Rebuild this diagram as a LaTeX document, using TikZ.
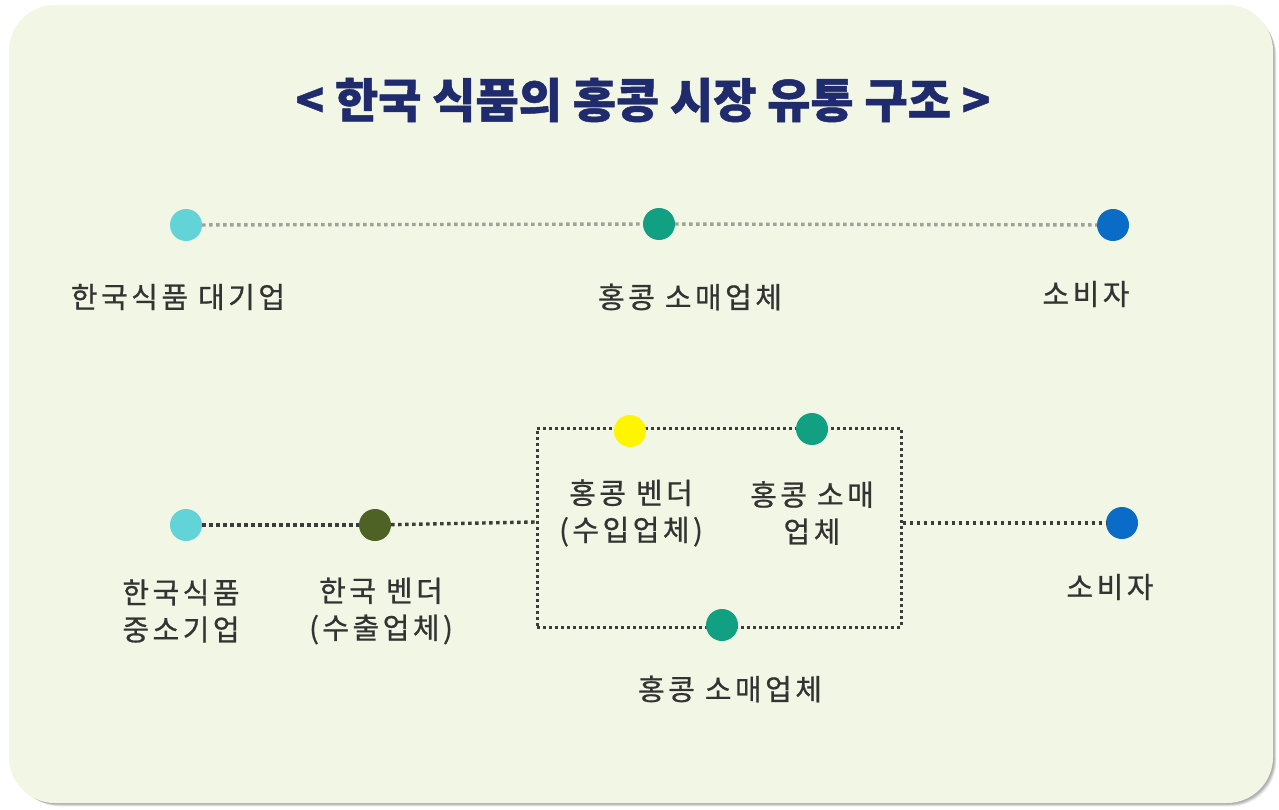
\documentclass[tikz,border=0pt]{standalone}
\usepackage{fontspec}
\newfontfamily\kr[LetterSpace=12,FakeBold=0.7]{Noto Sans CJK KR}
\newfontfamily\krtitle[FakeBold=1]{Noto Sans CJK KR}
\definecolor{bgc}{HTML}{F2F6E4}
\definecolor{txt}{HTML}{333333}
\definecolor{navy}{HTML}{1F2B6C}
\definecolor{cyanD}{HTML}{62D4D8}
\definecolor{greenD}{HTML}{12A083}
\definecolor{blueD}{HTML}{0A6CC6}
\definecolor{oliveD}{HTML}{4E6226}
\definecolor{yellowD}{HTML}{FFF500}
\definecolor{lineL}{HTML}{9EA39A}
\definecolor{lineD}{HTML}{3C3C3C}
\tikzset{
  dot/.style={circle, inner sep=0pt, minimum size=32pt},
  lbl/.style={text=txt, font=\kr\fontsize{29}{37}\selectfont, align=center},
  lightline/.style={draw=lineL, line width=3.4pt, dash pattern=on 3.4pt off 3.6pt},
  darkline/.style={draw=lineD, line width=3.4pt, dash pattern=on 3.4pt off 3.6pt},
  boxline/.style={draw=lineD, line width=3pt, dash pattern=on 3pt off 3pt}
}
\begin{document}
\begin{tikzpicture}[x=1pt,y=-1pt]
\useasboundingbox (0,0) rectangle (1279,810);
\fill[white] (0,0) rectangle (1279,810);
% soft shadow
\foreach \o/\a in {6/0.05,5/0.06,4/0.07,3/0.08,2/0.09}{
  \fill[black,opacity=\a,rounded corners=46pt] (9+\o,5+\o) rectangle (1273+\o*0.6,803+\o*0.6);
}
\fill[bgc,rounded corners=46pt] (9,5) rectangle (1273,803);
% title
\node[text=navy, font=\krtitle\bfseries\fontsize{47}{52}\selectfont] (title) at (643,100) {< 한국 식품의 홍콩 시장 유통 구조 >};
% top row
\node[dot, fill=cyanD] (a1) at (186,225) {};
\node[dot, fill=greenD] (a2) at (659,224) {};
\node[dot, fill=blueD] (a3) at (1113,225) {};
\draw[lightline] (a1) -- (a2);
\draw[lightline] (a2) -- (a3);
\node[lbl] (t1) at (178,297) {한국식품 대기업};
\node[lbl] (t2) at (690,297) {홍콩 소매업체};
\node[lbl] (t3) at (1086,294) {소비자};
% bottom row
\node[boxline, minimum width=364pt, minimum height=199pt, inner sep=0pt] (box) at (719,527.5) {};
\node[dot, fill=cyanD] (b1) at (186,525) {};
\node[dot, fill=oliveD] (b2) at (375,525) {};
\node[dot, fill=yellowD] (b3) at (630,431) {};
\node[dot, fill=greenD] (b4) at (812,429) {};
\node[dot, fill=greenD] (b5) at (722,625) {};
\node[dot, fill=blueD] (b6) at (1122,523) {};
\coordinate (bl) at (box.west |- 0,522);
\coordinate (br) at (box.east |- 0,523);
\draw[darkline] (b1) -- (b2);
\draw[darkline] (b2) -- (bl);
\draw[darkline] (br) -- (b6);
\node[lbl] (s1) at (181,611) {한국식품\\중소기업};
\node[lbl] (s2) at (381,611) {한국 벤더\\(수출업체)};
\node[lbl] (s3) at (631,513) {홍콩 벤더\\(수입업체)};
\node[lbl] (s4) at (812,513) {홍콩 소매\\업체};
\node[lbl] (s5) at (730,689) {홍콩 소매업체};
\node[lbl] (s6) at (1110,587) {소비자};
\end{tikzpicture}
\end{document}
